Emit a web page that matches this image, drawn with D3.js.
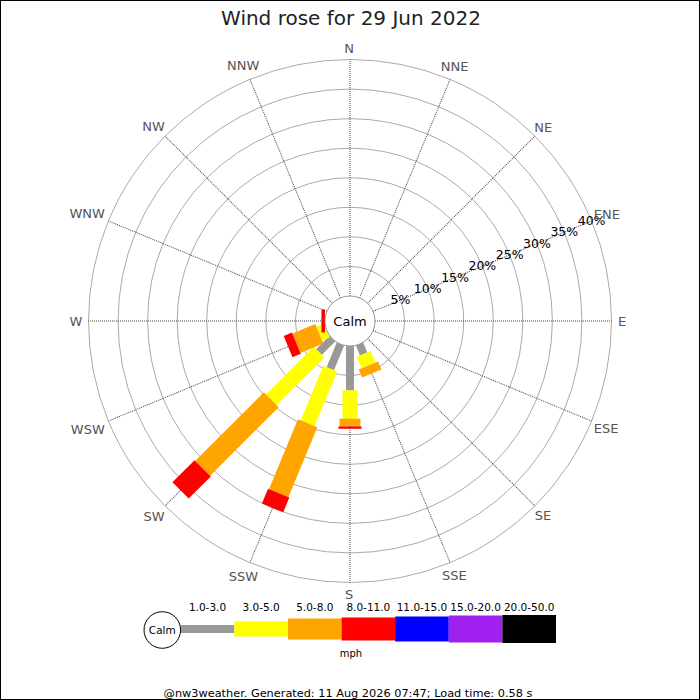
<!DOCTYPE html>
<html>
<head>
<meta charset="utf-8">
<script src="https://cdn.jsdelivr.net/npm/d3@7"></script>
<style>
  body { margin: 0; background: #fff; }
  text { font-family: "DejaVu Sans", sans-serif; }
</style>
</head>
<body>
<svg id="chart" width="700" height="700"></svg>
<script>
// directions, clockwise from north
const directions = ["N", "NNE", "NE", "ENE", "E", "ESE", "SE", "SSE",
                    "S", "SSW", "SW", "WSW", "W", "WNW", "NW", "NNW"];
const speedBins = ["1.0-3.0", "3.0-5.0", "5.0-8.0", "8.0-11.0", "11.0-15.0", "15.0-20.0", "20.0-50.0"];
const binColors = ["#999999", "#ffff00", "#ffa500", "#ff0000", "#0000ff", "#a020f0", "#000000"];
const ringTicks = [5, 10, 15, 20, 25, 30, 35, 40];

// % of the day per direction (N .. NNW) for each speed bin
const bin1to3   = [0, 0, 0, 0, 0, 0, 0, 1.8, 7.5, 4.5, 3.2, 0, 0, 0, 0, 0];
const bin3to5   = [0, 0, 0, 0, 0, 0, 0, 2.1, 4.8, 10.0, 11.4, 1.4, 0, 0, 0, 0];
const bin5to8   = [0, 0, 0, 0, 0, 0, 0, 1.5, 1.3, 12.8, 16.4, 4.2, 0, 0, 0, 0];
const bin8to11  = [0, 0, 0, 0, 0, 0, 0, 0, 0.4, 2.7, 5.3, 1.5, 0.6, 0, 0, 0];
const bin11to15 = [0, 0, 0, 0, 0, 0, 0, 0, 0, 0, 0, 0, 0, 0, 0, 0];
const bin15to20 = [0, 0, 0, 0, 0, 0, 0, 0, 0, 0, 0, 0, 0, 0, 0, 0];
const bin20to50 = [0, 0, 0, 0, 0, 0, 0, 0, 0, 0, 0, 0, 0, 0, 0, 0];
const series = [bin1to3, bin3to5, bin5to8, bin8to11, bin11to15, bin15to20, bin20to50];

const barWidths = [8, 15, 21, 23, 25, 27, 28];

const cx = 350, cy = 321;
const svg = d3.select("#chart");

svg.append("rect").attr("x", 0.5).attr("y", 0.5).attr("width", 699).attr("height", 699)
  .attr("fill", "#fff").attr("stroke", "#000");

const r = d3.scaleLinear().domain([0, 40]).range([25, 261.5]);
const ang = d3.scaleLinear().domain([0, directions.length]).range([0, 360]);
const color = d3.scaleOrdinal().domain(speedBins).range(binColors);
const width = d3.scaleOrdinal().domain(speedBins).range(barWidths);

// title
svg.append("text").attr("x", 351).attr("y", 25).attr("text-anchor", "middle")
  .attr("font-size", 20).attr("fill", "#222").text("Wind rose for 29 Jun 2022");

const g = svg.append("g").attr("transform", `translate(${cx},${cy})`);

// rings
g.selectAll(".ring").data(ringTicks).enter().append("circle")
  .attr("r", d => r(d)).attr("fill", "none").attr("stroke", "#aaa").attr("stroke-width", 1);

// spokes
g.selectAll(".spoke").data(directions).enter().append("line")
  .attr("transform", (d, i) => `rotate(${ang(i)})`)
  .attr("x1", 0).attr("x2", 0).attr("y1", -r(0)).attr("y2", -r(40))
  .attr("stroke", "#444").attr("stroke-width", 1).attr("stroke-dasharray", "1,1");

// stacked bars
const rows = directions.map((d, i) => {
  const row = { dir: d, i: i };
  speedBins.forEach((b, k) => row[b] = series[k][i]);
  return row;
});
const stacked = d3.stack().keys(speedBins)(rows);

stacked.forEach(layer => {
  g.selectAll(null).data(layer.filter(d => d[1] - d[0] > 0)).enter().append("rect")
    .attr("transform", d => `rotate(${ang(d.data.i)})`)
    .attr("x", -width(layer.key) / 2)
    .attr("width", width(layer.key))
    .attr("y", d => -r(d[1]))
    .attr("height", d => r(d[1]) - r(d[0]))
    .attr("fill", color(layer.key));
});

// calm circle
g.append("circle").attr("r", r(0)).attr("fill", "#fff").attr("stroke", "#999");
g.append("text").attr("y", 5).attr("text-anchor", "middle").attr("font-size", 13)
  .attr("fill", "#000").text("Calm");

// ring labels along ENE
const lblAng = ang(3) * Math.PI / 180;
g.selectAll(".pct").data(ringTicks).enter().append("text")
  .attr("x", d => r(d) * Math.sin(lblAng))
  .attr("y", d => -r(d) * Math.cos(lblAng) + 4)
  .attr("text-anchor", "middle").attr("font-size", 12.5).attr("fill", "#000")
  .text(d => d + "%");

// direction labels
g.selectAll(".dir").data(directions).enter().append("text")
  .attr("text-anchor", "middle").attr("font-size", 13).attr("fill", "#555")
  .text(d => d)
  .each(function(d, i) {
    const a = ang(i) * Math.PI / 180;
    const w = this.getComputedTextLength();
    const rr = 273 + Math.max(0, (w - 13) / 2) * Math.abs(Math.sin(a));
    d3.select(this).attr("x", rr * Math.sin(a) - 1).attr("y", -rr * Math.cos(a) + 5);
  });

// legend
const lx = d3.scaleBand().domain(speedBins).range([180.7, 556]);
const ly = 629;
const legend = svg.append("g");
legend.selectAll("rect").data(speedBins).enter().append("rect")
  .attr("x", d => lx(d)).attr("width", lx.bandwidth())
  .attr("y", d => ly - width(d) / 2).attr("height", d => width(d))
  .attr("fill", d => color(d));
legend.selectAll("text").data(speedBins).enter().append("text")
  .attr("x", d => lx(d) + lx.bandwidth() / 2).attr("y", 611)
  .attr("text-anchor", "middle").attr("font-size", 10.5).attr("fill", "#000")
  .text(d => d);
legend.append("circle").attr("cx", 162.3).attr("cy", 630).attr("r", 18.3)
  .attr("fill", "#fff").attr("stroke", "#000");
legend.append("text").attr("x", 162.3).attr("y", 634).attr("text-anchor", "middle")
  .attr("font-size", 10.5).attr("fill", "#000").text("Calm");
legend.append("text").attr("x", 351).attr("y", 657).attr("text-anchor", "middle")
  .attr("font-size", 10).attr("fill", "#000").text("mph");

// footer
svg.append("text").attr("x", 348).attr("y", 697).attr("text-anchor", "middle")
  .attr("font-size", 11.3).attr("fill", "#000")
  .text("@nw3weather. Generated: 11 Aug 2026 07:47; Load time: 0.58 s");
</script>
</body>
</html>
